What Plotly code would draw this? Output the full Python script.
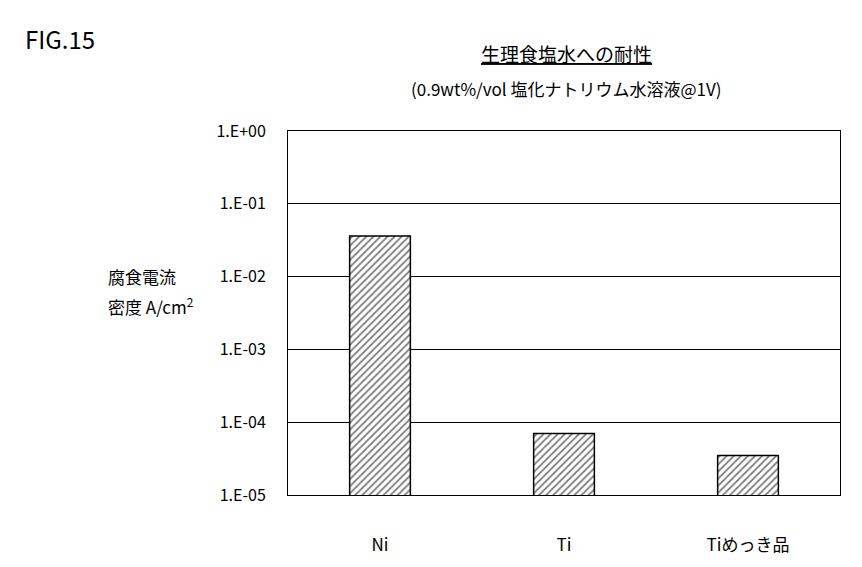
import plotly.graph_objects as go

categories = ["Ni", "Ti", "Tiめっき品"]
values = [3.6e-2, 7.0e-5, 3.5e-5]
tick_vals = [1, 1e-1, 1e-2, 1e-3, 1e-4, 1e-5]
tick_text = ["1.E+00", "1.E-01", "1.E-02", "1.E-03", "1.E-04", "1.E-05"]

font = "Noto Sans CJK JP"
L, T, R, B = 280, 123, 30, 80
pw, ph = 862 - L - R, 567 - T - B

def px(x, y):
    return (x - L) / pw, 1 - (y - T) / ph

fig = go.Figure(go.Bar(
    x=categories, y=values, width=0.33,
    marker=dict(color="white", line=dict(color="black", width=1.5),
                pattern=dict(shape="/", fgcolor="black", bgcolor="white", size=5, solidity=0.35)),
))
anns = [
    ("FIG.15", 15, 30, 24, "left"),
    ("<u>生理食塩水への耐性</u>", 558, 45, 19, "center"),
    ("(0.9wt%/vol 塩化ナトリウム水溶液@1V)", 558, 80, 17, "center"),
    ("腐食電流", 98, 268, 17, "left"),
    ("密度 A/cm<sup>2</sup>", 98, 298, 17, "left"),
]
annotations = []
for text, x, y, s, xa in anns:
    ax, ay = px(x, y)
    annotations.append(dict(text=text, x=ax, y=ay, xref="paper", yref="paper", showarrow=False,
                            font=dict(size=s), xanchor=xa, yanchor="middle"))
fig.update_layout(
    width=862, height=567, margin=dict(l=L, r=R, t=T, b=B, autoexpand=False),
    plot_bgcolor="white", paper_bgcolor="white", showlegend=False,
    font=dict(family=font, color="black", size=16),
    xaxis=dict(showline=True, linecolor="black", mirror=True, ticks="", tickfont=dict(size=17),
               ticklabelstandoff=35),
    yaxis=dict(type="log", range=[-5, 0], tickvals=tick_vals, ticktext=tick_text,
               showline=True, linecolor="black", mirror=True, showgrid=True,
               gridcolor="black", gridwidth=1, ticks="", tickfont=dict(size=16),
               ticklabelstandoff=18),
    annotations=annotations,
)
fig.write_html("out.html")
